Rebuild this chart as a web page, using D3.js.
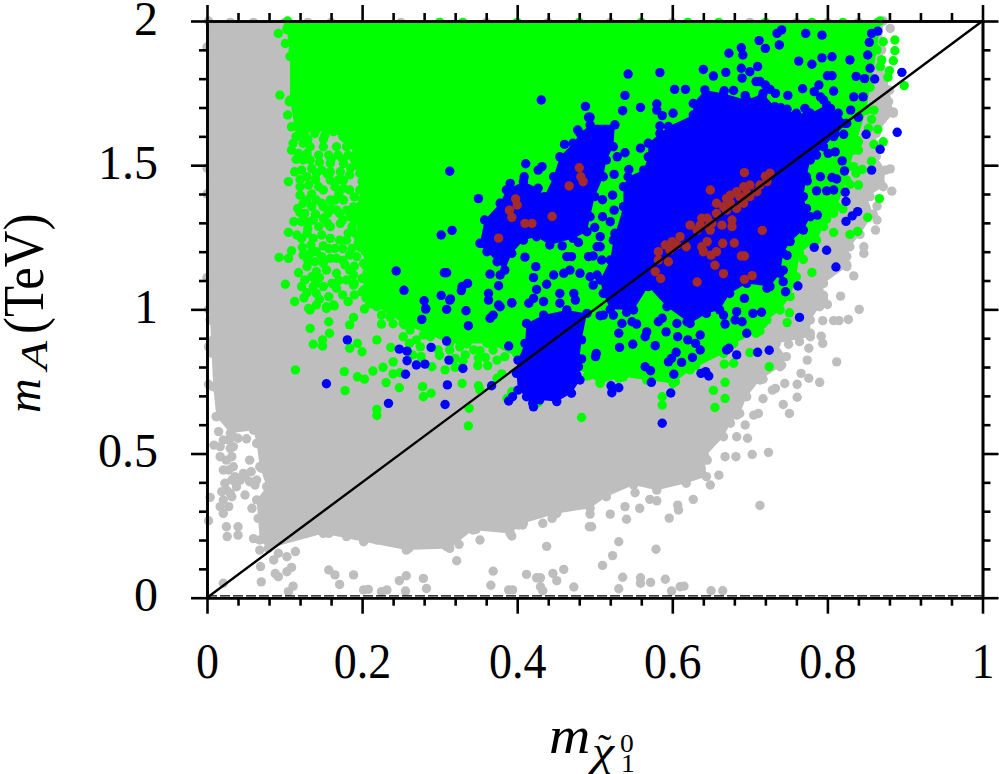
<!DOCTYPE html>
<html><head><meta charset="utf-8">
<script src="https://cdn.jsdelivr.net/npm/d3@7/dist/d3.min.js"></script>
<style>html,body{margin:0;padding:0;background:#fff}svg{display:block}text{font-family:"Liberation Serif",serif;fill:#000}</style>
</head><body><svg id="c" width="999" height="774"></svg>
<script>
const xMajorTicks=[0,0.2,0.4,0.6,0.8,1];
const xMinorTicks=[0.04,0.08,0.12,0.16,0.24,0.28,0.32,0.36,0.44,0.48,0.52,0.56,0.64,0.68,0.72,0.76,0.84,0.88,0.92,0.96];
const yMajorTicks=[0,0.5,1,1.5,2];
const yMinorTicks=[0.1,0.2,0.3,0.4,0.6,0.7,0.8,0.9,1.1,1.2,1.3,1.4,1.6,1.7,1.8,1.9];
const diagonal=[[0,0],[1,2]];

// dense clouds, outlined
const grayCloud=[[0.002,2],[0.002,1],[0.004,0.963],[0.008,0.732],[0.012,0.628],[0.03,0.57],[0.06,0.581],[0.064,0.535],[0.068,0.454],[0.077,0.385],[0.064,0.339],[0.068,0.2],[0.079,0.171],[0.15,0.223],[0.202,0.194],[0.257,0.165],[0.313,0.171],[0.343,0.235],[0.391,0.223],[0.408,0.258],[0.451,0.292],[0.494,0.31],[0.515,0.35],[0.55,0.391],[0.58,0.373],[0.618,0.397],[0.644,0.42],[0.642,0.489],[0.666,0.558],[0.675,0.605],[0.687,0.639],[0.696,0.697],[0.713,0.755],[0.739,0.801],[0.747,0.836],[0.734,0.882],[0.778,0.905],[0.778,0.963],[0.79,1.009],[0.795,1.034],[0.795,1.09],[0.825,1.148],[0.829,1.217],[0.842,1.26],[0.859,1.33],[0.851,1.39],[0.872,1.425],[0.875,1.483],[0.863,1.53],[0.863,1.61],[0.885,1.68],[0.88,1.76],[0.87,1.9],[0.872,2]];
const greenCloud=[[0.104,2],[0.868,2],[0.864,1.9],[0.855,1.77],[0.85,1.69],[0.838,1.587],[0.829,1.495],[0.825,1.448],[0.812,1.356],[0.795,1.287],[0.786,1.24],[0.764,1.194],[0.76,1.113],[0.752,1.044],[0.739,0.998],[0.717,0.95],[0.708,0.917],[0.679,0.882],[0.666,0.847],[0.623,0.79],[0.601,0.743],[0.567,0.755],[0.537,0.766],[0.507,0.743],[0.494,0.778],[0.408,0.824],[0.365,0.882],[0.313,0.882],[0.253,0.951],[0.219,1.009],[0.2,1.06],[0.205,1.15],[0.195,1.25],[0.19,1.34],[0.2,1.42],[0.195,1.52],[0.175,1.6],[0.14,1.62],[0.115,1.6],[0.107,1.726],[0.107,1.877],[0.103,1.97]];
const blueCloudA=[[0.358,1.31],[0.378,1.368],[0.386,1.414],[0.408,1.443],[0.427,1.42],[0.435,1.391],[0.447,1.46],[0.455,1.529],[0.472,1.576],[0.481,1.61],[0.494,1.64],[0.526,1.64],[0.524,1.564],[0.515,1.518],[0.511,1.46],[0.5,1.391],[0.494,1.321],[0.49,1.269],[0.472,1.246],[0.442,1.223],[0.425,1.252],[0.408,1.24],[0.393,1.194],[0.384,1.136],[0.374,1.165],[0.361,1.2],[0.352,1.229]];
const blueCloudB=[[0.642,1.761],[0.666,1.749],[0.696,1.726],[0.717,1.749],[0.732,1.703],[0.76,1.68],[0.778,1.68],[0.799,1.709],[0.814,1.68],[0.825,1.645],[0.808,1.599],[0.795,1.564],[0.778,1.518],[0.773,1.46],[0.769,1.391],[0.773,1.35],[0.778,1.321],[0.769,1.275],[0.752,1.235],[0.743,1.194],[0.739,1.125],[0.726,1.079],[0.696,1.09],[0.674,1.055],[0.661,0.998],[0.644,0.986],[0.623,0.951],[0.593,1.009],[0.569,1.079],[0.55,0.998],[0.52,1.0],[0.511,1.055],[0.507,1.102],[0.52,1.171],[0.524,1.24],[0.537,1.356],[0.537,1.425],[0.543,1.46],[0.563,1.483],[0.569,1.529],[0.569,1.576],[0.584,1.61],[0.595,1.634],[0.627,1.674],[0.627,1.714]];
const blueCloudC=[[0.412,0.951],[0.434,0.98],[0.464,0.998],[0.49,0.986],[0.483,0.894],[0.479,0.801],[0.481,0.755],[0.47,0.709],[0.451,0.68],[0.429,0.686],[0.421,0.662],[0.412,0.697],[0.401,0.72],[0.399,0.778],[0.401,0.824],[0.41,0.882]];

const grayPoints=[[0.008,0.894],[0.007,0.847],[0.008,0.732],[0.012,0.628],[0.009,0.529],[0.017,0.489],[0.021,0.443],[0.023,0.397],[0.021,0.339],[0.021,0.292],[0.025,0.246],[0.026,0.212],[0.04,0.246],[0.04,0.217],[0.06,0.205],[0.058,0.31],[0.066,0.275],[0.049,0.356],[0.055,0.477],[0.07,0.449],[0.034,0.524],[0.043,0.408],[0.004,0.348],[0.002,0.267],[0.03,0.362],[0.068,0.165],[0.069,0.108],[0.07,0.055],[0.021,0.05],[0.092,0.154],[0.103,0.142],[0.114,0.16],[0.086,0.131],[0.092,0.073],[0.103,0.09],[0.109,0.105],[0.088,0.084],[0.105,0.021],[0.111,0.04],[0.157,0.096],[0.165,0.079],[0.189,0.079],[0.171,0.046],[0.202,0.027],[0.208,0.029],[0.225,0.021],[0.232,0.027],[0.248,0.059],[0.257,0.076],[0.256,0.023],[0.279,0.067],[0.283,0.032],[0.322,0.128],[0.352,0.2],[0.325,0.185],[0.438,0.178],[0.369,0.092],[0.366,0.043],[0.389,0.027],[0.394,0.027],[0.412,0.081],[0.425,0.069],[0.43,0.069],[0.43,0.038],[0.433,0.024],[0.446,0.084],[0.451,0.059],[0.46,0.098],[0.473,0.037],[0.433,0.258],[0.445,0.275],[0.493,0.246],[0.393,0.214],[0.347,0.237],[0.384,0.252],[0.402,0.252],[0.407,0.252],[0.369,0.252],[0.152,0.269],[0.157,0.223],[0.18,0.212],[0.202,0.223],[0.219,0.2],[0.236,0.194],[0.26,0.171],[0.279,0.2],[0.309,0.177],
[0.015,0.576],[0.021,0.547],[0.028,0.547],[0.017,0.524],[0.025,0.477],[0.028,0.443],[0.032,0.408],[0.025,0.373],[0.019,0.368],[0.032,0.35],[0.028,0.316],[0.017,0.316],[0.036,0.42],[0.049,0.42],[0.055,0.402],[0.062,0.391],[0.047,0.431],[0.057,0.437],[0.034,0.454],[0.032,0.489],[0.064,0.408],[0.038,0.385],[0.051,0.551],[0.04,0.553],[0.034,0.558],[0.03,0.518],
[0.494,0.29],[0.52,0.29],[0.496,0.246],[0.541,0.272],[0.539,0.316],[0.558,0.31],[0.552,0.364],[0.571,0.341],[0.58,0.336],[0.596,0.276],[0.607,0.321],[0.608,0.304],[0.627,0.341],[0.531,0.194],[0.523,0.146],[0.51,0.112],[0.579,0.168],[0.536,0.071],[0.531,0.031],[0.559,0.069],[0.559,0.05],[0.572,0.053],[0.591,0.064],[0.599,0.023],[0.61,0.038],[0.615,0.04],[0.65,0.024],[0.665,0.024],[0.713,0.32],[0.649,0.391],[0.66,0.425],[0.627,0.458],[0.645,0.477],[0.668,0.489],[0.682,0.489],[0.703,0.497],[0.724,0.504],[0.697,0.553],[0.683,0.558],[0.694,0.599],[0.705,0.633],[0.711,0.639],[0.683,0.633],[0.743,0.67],[0.751,0.639],[0.761,0.695],[0.717,0.69],[0.729,0.72],[0.733,0.726],[0.745,0.743],[0.761,0.74],[0.776,0.761],[0.79,0.747],[0.766,0.778],[0.717,0.758],[0.774,0.824],[0.776,0.865],[0.812,0.818],[0.792,0.907],[0.794,0.882],[0.764,0.888],[0.75,0.879],[0.794,0.961],[0.808,0.961],[0.815,0.961],[0.827,0.965],[0.841,1.0],[0.8,1.017],[0.778,0.917],[0.741,0.807],[0.735,0.836],
[0.795,1.049],[0.817,1.046],[0.883,1.41],[0.881,1.487],[0.862,1.275],[0.847,1.194],[0.834,1.116],[0.825,1.154],[0.864,1.358],[0.885,1.685],[0.879,1.72],[0.881,1.974],[0.868,1.443],[0.855,1.391],[0.864,1.31],[0.847,1.217],[0.825,1.183],
[0.03,1.995],[0.06,1.995],[0.1,1.995],[0.13,1.995],[0.16,1.995],[0.25,1.995],[0.3,1.995],[0.36,1.995],[0.44,1.995],[0.52,1.995],[0.6,1.995],[0.7,1.995],[0.76,1.995],[0.8,1.995],[0.84,1.995],
[0,1.91],[0,1.49],[0,1.4],[0,1.11],[0.002,0.87],[0.002,0.74]];

const greenPoints=[[0.092,1.957],[0.104,1.978],[0.117,1.98],[0.116,1.946],[0.101,1.922],[0.111,1.899],[0.094,1.743],[0.106,1.72],[0.104,1.674],[0.109,1.633],[0.111,1.576],[0.109,1.552],[0.124,1.576],[0.113,1.477],[0.105,1.443],[0.12,1.396],[0.117,1.35],[0.126,1.333],[0.112,1.304],[0.105,1.267],[0.116,1.258],[0.129,1.264],[0.137,1.31],[0.15,1.316],[0.148,1.258],[0.171,1.24],[0.123,1.215],[0.134,1.223],[0.109,1.203],[0.093,1.18],[0.105,1.177],[0.141,1.2],[0.157,1.211],[0.165,1.211],[0.139,1.165],[0.15,1.159],[0.167,1.177],[0.178,1.154],[0.118,1.127],[0.126,1.102],[0.101,1.087],[0.135,1.113],[0.161,1.09],[0.18,1.102],[0.189,1.119],[0.2,1.107],[0.219,1.107],[0.129,1.058],[0.141,1.055],[0.113,1.027],[0.157,1.044],[0.163,1.015],[0.182,1.027],[0.202,1.067],[0.227,1.055],[0.21,1.021],[0.227,1.015],[0.238,1.027],[0.249,1.015],[0.131,1.003],[0.154,1.009],[0.129,1.46],[0.141,1.472],[0.159,1.506],[0.176,1.506],[0.193,1.5],[0.212,1.518],[0.206,1.552],[0.167,1.564],[0.15,1.564],[0.133,1.564],[0.18,1.564],[0.133,1.518],[0.124,1.518],[0.159,1.379],[0.141,1.379],[0.176,1.379],[0.189,1.356],[0.197,1.344],[0.184,1.414],[0.197,1.414],[0.212,1.217],[0.198,1.215],[0.187,1.211],[0.184,1.188],[0.212,1.177],[0.202,1.159],[0.159,1.287],[0.172,1.298],[0.187,1.287],[0.223,1.258],[0.137,1.633],[0.15,1.656],[0.167,1.633],[0.159,1.448],[0.176,1.448],[0.15,1.414],[0.167,1.344],[0.15,1.356],[0.129,1.379],
[0.116,1.599],[0.126,1.604],[0.139,1.61],[0.152,1.604],[0.163,1.616],[0.178,1.593],[0.189,1.604],[0.118,1.541],[0.129,1.541],[0.144,1.535],[0.157,1.535],[0.169,1.535],[0.182,1.535],[0.191,1.535],[0.122,1.483],[0.135,1.489],[0.148,1.483],[0.159,1.477],[0.172,1.477],[0.184,1.466],[0.197,1.472],[0.21,1.483],[0.12,1.425],[0.131,1.431],[0.144,1.425],[0.165,1.425],[0.176,1.42],[0.2,1.443],[0.124,1.368],[0.135,1.356],[0.148,1.368],[0.165,1.379],[0.18,1.344],[0.122,1.304],[0.131,1.304],[0.144,1.287],[0.156,1.333],[0.171,1.333],[0.184,1.321],[0.122,1.246],[0.137,1.246],[0.159,1.246],[0.182,1.264],[0.191,1.264],[0.133,1.194],[0.148,1.183],[0.124,1.188],[0.159,1.177],[0.193,1.183],[0.204,1.2],[0.129,1.148],[0.141,1.131],[0.154,1.136],[0.167,1.125],[0.184,1.136],[0.206,1.125],[0.215,1.159],[0.122,1.079],[0.137,1.079],[0.15,1.079],[0.167,1.073],[0.189,1.084],[0.212,1.079],[0.219,1.067],
[0.14,1.45],[0.19,1.39],[0.17,1.4],[0.135,1.4],[0.16,1.35],[0.14,1.33],[0.12,1.335],[0.19,1.31],[0.175,1.31],[0.155,1.3],[0.13,1.28],[0.18,1.24],[0.195,1.23],[0.15,1.22],[0.175,1.21],[0.13,1.17],[0.19,1.15],[0.175,1.17],[0.145,1.11],[0.17,1.1],[0.19,1.09],[0.14,1.09],[0.125,1.04],[0.145,1.035],[0.175,1.05],[0.19,1.05],[0.205,1.04],[0.12,1.45],[0.155,1.47],[0.17,1.45],[0.185,1.49],[0.115,1.52],[0.145,1.51],[0.16,1.52],[0.175,1.52],[0.19,1.52],[0.13,1.59],[0.15,1.59],[0.175,1.61],[0.195,1.59],[0.205,1.5],[0.21,1.4],[0.21,1.35],[0.21,1.22],[0.215,1.12],
[0.133,0.934],[0.137,0.879],[0.149,0.894],[0.149,0.873],[0.158,0.917],[0.157,0.957],[0.133,0.998],[0.141,1.015],[0.154,1.003],[0.164,1.012],[0.189,0.972],[0.184,0.946],[0.203,1.001],[0.212,1.018],[0.225,0.949],[0.247,0.986],[0.262,0.995],[0.255,0.946],[0.219,0.894],[0.194,0.882],[0.184,0.865],[0.2,0.853],[0.237,0.868],[0.261,0.882],[0.114,0.79],[0.177,0.784],[0.214,0.786],[0.227,0.799],[0.24,0.818],[0.194,0.766],[0.203,0.758],[0.24,0.776],[0.249,0.78],[0.231,0.746],[0.248,0.728],[0.178,0.718],[0.278,0.732],[0.279,0.697],[0.289,0.709],[0.219,0.653],[0.219,0.632],[0.338,0.657],[0.337,0.596],[0.329,0.743],[0.307,0.79],[0.32,0.799],[0.349,0.805],[0.35,0.735],[0.352,0.72],[0.362,0.805],[0.374,0.824],[0.384,0.836],[0.359,0.833],[0.352,0.857],[0.38,0.776],[0.374,0.761],[0.29,0.801],[0.276,0.836],[0.265,0.842],[0.283,0.94],[0.296,0.922],[0.279,0.911],[0.298,0.859],[0.313,0.859],[0.326,0.87],[0.333,0.842],[0.322,0.917],[0.335,0.905],[0.348,0.905],[0.361,0.882],[0.376,0.911],[0.361,0.928],[0.296,0.974],[0.309,0.963],[0.279,0.963],[0.262,0.928],[0.32,0.83],[0.483,0.625],[0.427,0.676],[0.393,0.714],[0.387,0.691],[0.49,0.769],
[0.236,0.974],[0.27,0.986],[0.288,1.009],[0.305,0.998],[0.318,0.998],[0.344,0.986],[0.356,0.974],[0.378,0.963],[0.391,0.917],[0.27,0.894],[0.288,0.905],[0.305,0.917],[0.344,0.859],[0.369,0.859],[0.391,0.963],[0.408,0.986],[0.335,1.009],[0.348,0.951],[0.292,0.951],[0.313,0.94],[0.253,0.905],[0.404,0.917],[0.399,0.847],[0.225,0.98],[0.24,0.95],[0.26,0.96],[0.275,0.87],[0.3,0.84],[0.335,0.88],[0.37,0.89],[0.39,0.88],[0.35,0.83],[0.33,0.82],
[0.722,0.963],[0.748,0.954],[0.751,0.988],[0.737,1.009],[0.713,0.925],[0.707,0.951],[0.7,0.85],[0.725,0.801],[0.679,0.813],[0.667,0.81],[0.668,0.747],[0.653,0.719],[0.668,0.691],[0.655,0.66],[0.587,0.697],[0.587,0.668],[0.604,0.749],[0.592,0.764],[0.586,0.784],[0.599,0.795],[0.544,0.786],[0.531,0.761],[0.531,0.801],[0.538,0.824],[0.523,0.836],[0.511,0.816],[0.507,0.749],[0.503,0.769],[0.559,0.83],[0.559,0.818],[0.623,0.793],[0.63,0.805],[0.679,0.882],[0.649,0.868],[0.658,0.859],[0.66,0.888],[0.677,0.917],[0.572,0.755],[0.494,0.772],
[0.887,1.934],[0.887,1.897],[0.885,1.862],[0.88,1.828],[0.87,1.865],[0.872,1.928],[0.862,1.905],[0.868,1.842],[0.878,1.805],[0.899,1.776],[0.86,1.691],[0.857,1.659],[0.853,1.628],[0.865,1.624],[0.872,1.581],[0.86,1.572],[0.84,1.581],[0.834,1.552],[0.84,1.552],[0.857,1.514],[0.837,1.472],[0.845,1.485],[0.834,1.495],[0.84,1.431],[0.829,1.433],[0.867,1.384],[0.852,1.319],[0.839,1.27],[0.829,1.26],[0.808,1.267],[0.799,1.313],[0.82,1.348],[0.808,1.333],[0.806,1.362],[0.78,1.128],[0.769,1.173],[0.786,1.275],[0.778,1.287],[0.737,1.021],
[0.3,1.995],[0.33,1.995],[0.4,1.995],[0.48,1.995],[0.56,1.995],[0.62,1.995],[0.66,1.995],[0.72,1.995],[0.78,1.995],[0.82,1.995],[0.865,1.995]];

const bluePoints=[[0.431,1.726],[0.488,1.704],[0.492,1.666],[0.478,1.622],[0.461,1.572],[0.411,1.505],[0.432,1.495],[0.427,1.483],[0.313,1.479],[0.35,1.384],[0.409,1.46],[0.391,1.437],[0.316,1.274],[0.302,1.258],[0.356,1.229],[0.479,1.232],[0.458,1.22],[0.41,1.181],[0.244,1.133],[0.306,1.127],[0.309,1.127],[0.365,1.122],[0.378,1.119],[0.424,1.148],[0.421,1.11],[0.47,1.183],[0.464,1.183],[0.447,1.119],[0.468,1.136],[0.46,1.125],[0.481,1.125],[0.492,1.183],[0.376,1.082],[0.336,1.09],[0.329,1.079],[0.328,1.065],[0.254,1.066],[0.302,1.048],[0.314,1.036],[0.28,1.03],[0.363,1.055],[0.363,1.032],[0.421,1.038],[0.415,1.021],[0.425,1.069],[0.438,1.087],[0.455,1.055],[0.473,1.055],[0.475,1.032],[0.455,1.021],[0.393,1.022],[0.376,1.015],[0.434,1.027],[0.282,1.003],[0.309,1],[0.334,0.995],
[0.735,1.957],[0.741,1.969],[0.772,1.957],[0.793,1.951],[0.712,1.932],[0.72,1.905],[0.738,1.917],[0.689,1.907],[0.691,1.882],[0.673,1.888],[0.763,1.861],[0.78,1.85],[0.793,1.872],[0.806,1.876],[0.829,1.865],[0.852,1.882],[0.854,1.926],[0.857,1.957],[0.865,1.965],[0.855,1.836],[0.896,1.822],[0.861,1.799],[0.848,1.8],[0.837,1.808],[0.8,1.81],[0.806,1.81],[0.543,1.816],[0.584,1.821],[0.64,1.832],[0.653,1.809],[0.669,1.822],[0.689,1.836],[0.7,1.824],[0.71,1.842],[0.69,1.802],[0.708,1.79],[0.713,1.79],[0.72,1.778],[0.726,1.763],[0.733,1.749],[0.603,1.763],[0.617,1.763],[0.667,1.758],[0.679,1.759],[0.694,1.741],[0.716,1.737],[0.749,1.742],[0.768,1.765],[0.789,1.778],[0.783,1.755],[0.808,1.757],[0.791,1.737],[0.795,1.726],[0.834,1.737],[0.846,1.737],[0.539,1.742],[0.559,1.7],[0.536,1.689],[0.58,1.712],[0.58,1.691],[0.587,1.672],[0.601,1.68],[0.74,1.699],[0.748,1.694],[0.771,1.697],[0.774,1.685],[0.804,1.697],[0.791,1.674],[0.797,1.668],[0.804,1.674],[0.791,1.645],[0.786,1.628],[0.83,1.691],[0.84,1.666],[0.823,1.645],[0.584,1.636],[0.821,1.607],[0.85,1.607],[0.89,1.614],[0.81,1.61],[0.868,1.555],[0.801,1.541],[0.81,1.546],[0.786,1.535],[0.559,1.559],[0.539,1.543],[0.529,1.529],[0.544,1.485],[0.525,1.468],[0.819,1.515],[0.857,1.483],[0.822,1.48],[0.791,1.46],[0.806,1.457],[0.812,1.452],[0.774,1.445],[0.523,1.396],[0.51,1.38],[0.823,1.406],[0.786,1.411],[0.799,1.411],[0.808,1.414],[0.824,1.374],[0.525,1.344],[0.51,1.321],[0.52,1.304],[0.5,1.284],[0.787,1.327],[0.824,1.305],[0.832,1.324],[0.839,1.339],[0.526,1.264],[0.507,1.252],[0.503,1.217],[0.507,1.217],[0.498,1.185],[0.509,1.171],[0.783,1.215],[0.799,1.205],[0.748,1.187],[0.811,1.147],[0.743,1.136],[0.743,1.096],[0.762,1.081],[0.746,1.061],[0.722,1.073],[0.693,1.038],[0.498,1.084],[0.494,1.113],[0.503,1.119],[0.494,1.666],
[0.764,0.972],[0.715,0.99],[0.704,0.986],[0.683,0.992],[0.666,0.98],[0.668,0.949],[0.69,0.957],[0.696,0.917],[0.681,0.963],[0.725,0.858],[0.71,0.851],[0.683,0.842],[0.67,0.859],[0.673,0.865],[0.636,0.911],[0.636,0.859],[0.62,0.894],[0.63,0.882],[0.607,0.905],[0.606,0.951],[0.619,0.957],[0.592,0.922],[0.582,0.957],[0.587,0.969],[0.567,0.922],[0.565,0.905],[0.535,0.951],[0.548,0.957],[0.554,0.949],[0.541,0.99],[0.531,0.917],[0.507,0.978],[0.511,0.98],[0.524,0.98],[0.578,0.874],[0.549,0.879],[0.532,0.868],[0.502,0.847],[0.501,0.836],[0.605,0.851],[0.599,0.83],[0.595,0.818],[0.612,0.816],[0.626,0.833],[0.565,0.801],[0.572,0.787],[0.637,0.778],[0.643,0.784],[0.647,0.769],[0.602,0.775],[0.573,0.747],[0.521,0.735],[0.531,0.728],[0.522,0.711],[0.598,0.71],[0.587,0.605],
[0.181,0.894],[0.248,0.862],[0.258,0.855],[0.258,0.822],[0.27,0.807],[0.281,0.81],[0.289,0.868],[0.309,0.89],[0.312,0.824],[0.33,0.795],[0.337,0.943],[0.277,0.965],[0.282,1.001],[0.313,1.032],[0.365,0.969],[0.369,0.98],[0.378,1.009],[0.393,1.023],[0.389,0.873],[0.256,0.775],[0.154,0.742],[0.31,0.738],[0.234,0.674],[0.307,0.67],[0.367,0.735],[0.389,0.682],[0.394,0.697],[0.42,0.674],[0.483,0.828],[0.477,0.772]];

const redPoints=[[0.48,1.491],[0.482,1.46],[0.485,1.443],[0.467,1.428],[0.398,1.383],[0.4,1.362],[0.39,1.344],[0.393,1.319],[0.41,1.298],[0.419,1.298],[0.445,1.322],[0.376,1.247],
[0.693,1.474],[0.72,1.462],[0.726,1.472],[0.649,1.414],[0.722,1.443],[0.713,1.431],[0.7,1.431],[0.692,1.425],[0.683,1.408],[0.675,1.396],[0.7,1.391],[0.692,1.368],[0.67,1.385],[0.657,1.368],[0.683,1.35],[0.67,1.344],[0.657,1.333],[0.645,1.316],[0.638,1.316],[0.651,1.298],[0.677,1.31],[0.664,1.292],[0.636,1.292],[0.623,1.292],[0.649,1.275],[0.632,1.275],[0.677,1.287],[0.716,1.274],[0.61,1.252],[0.6,1.235],[0.591,1.223],[0.582,1.2],[0.582,1.171],[0.597,1.206],[0.606,1.223],[0.618,1.217],[0.595,1.165],[0.578,1.131],[0.585,1.107],[0.645,1.235],[0.638,1.217],[0.64,1.2],[0.665,1.229],[0.68,1.23],[0.657,1.2],[0.65,1.188],[0.689,1.185],[0.693,1.185],[0.655,1.153],[0.666,1.124],[0.632,1.095],[0.693,1.104],[0.703,1.117],[0.709,1.408],[0.696,1.402],[0.687,1.391],[0.675,1.368],[0.666,1.356],[0.647,1.287]];

const svg=d3.select("#c");
const x=d3.scaleLinear().domain([0,1]).range([207,982.5]);
const y=d3.scaleLinear().domain([0,2]).range([597.7,21]);
const area=d3.line().x(d=>x(d[0])).y(d=>y(d[1])).curve(d3.curveLinearClosed);
const R=4.7;
function dots(p,c,r){svg.append("g").selectAll("circle").data(p).join("circle").attr("cx",d=>x(d[0])).attr("cy",d=>y(d[1])).attr("r",r).attr("fill",c);}
function cloud(p,c){svg.append("path").datum(p).attr("d",area).attr("fill",c);dots(p,c,R);}
cloud(grayCloud,"#bebebe");dots(grayPoints,"#bebebe",R);
cloud(greenCloud,"#00ff00");dots(greenPoints,"#00ff00",R);
cloud(blueCloudA,"#0000ff");cloud(blueCloudB,"#0000ff");cloud(blueCloudC,"#0000ff");dots(bluePoints,"#0000ff",R);
dots(redPoints,"#a52a2a",R);
svg.append("path").datum(diagonal).attr("d",d3.line().x(d=>x(d[0])).y(d=>y(d[1]))).attr("stroke","#000").attr("stroke-width",2.4).attr("fill","none");

const LW=2.6;
svg.append("line").attr("x1",x(0)).attr("x2",x(1)).attr("y1",y(0)-1.8).attr("y2",y(0)-1.8).attr("stroke","#000").attr("stroke-width",1.4).attr("stroke-dasharray","10 3");
function style(g){g.selectAll("path,line").attr("stroke","#000").attr("stroke-width",LW);}
function fmt(v){return String(v);}
svg.append("g").attr("transform",`translate(0,${y(0)})`).call(d3.axisBottom(x).tickValues(xMinorTicks).tickSize(8).tickSizeOuter(0).tickFormat("")).call(style);
svg.append("g").attr("transform",`translate(0,${y(2)})`).call(d3.axisTop(x).tickValues(xMinorTicks).tickSize(8).tickSizeOuter(0).tickFormat("")).call(style);
svg.append("g").attr("transform",`translate(${x(0)},0)`).call(d3.axisLeft(y).tickValues(yMinorTicks).tickSize(8).tickSizeOuter(0).tickFormat("")).call(style);
svg.append("g").attr("transform",`translate(${x(1)},0)`).call(d3.axisRight(y).tickValues(yMinorTicks).tickSize(8).tickSizeOuter(0).tickFormat("")).call(style);
const bx=svg.append("g").attr("transform",`translate(0,${y(0)})`).call(d3.axisBottom(x).tickValues(xMajorTicks).tickSize(16).tickSizeOuter(0).tickFormat(fmt)).call(style);
bx.selectAll("text").attr("y",null).attr("dy",null).attr("transform","translate(0,80) scale(0.92,1)").attr("font-size",50);
svg.append("g").attr("transform",`translate(0,${y(2)})`).call(d3.axisTop(x).tickValues(xMajorTicks).tickSize(16).tickSizeOuter(0).tickFormat("")).call(style);
const ly=svg.append("g").attr("transform",`translate(${x(0)},0)`).call(d3.axisLeft(y).tickValues(yMajorTicks).tickSize(16).tickSizeOuter(0).tickFormat(fmt)).call(style);
ly.selectAll("text").attr("x",null).attr("dy",null).attr("transform","translate(-49,13)").attr("font-size",48);
svg.append("g").attr("transform",`translate(${x(1)},0)`).call(d3.axisRight(y).tickValues(yMajorTicks).tickSize(16).tickSizeOuter(0).tickFormat("")).call(style);

const lab=(tf,s,fs,it)=>svg.append("text").attr("transform",tf).attr("font-size",fs).attr("font-style",it?"italic":"normal").text(s);
lab("translate(549,753) scale(1.1,1)","m",52,true);
lab("translate(592,765) scale(1.25,1)","χ",40,true);
lab("translate(598,762)","˜",40,false);
lab("translate(620,752) scale(1.1,1)","0",25,false);
lab("translate(621,772) scale(1.1,1)","1",25,false);
lab("translate(40,413) rotate(-90)","m",48,true);
lab("translate(47,370) rotate(-90) scale(1.25,1)","A",38,true);
lab("translate(43,334) rotate(-90) scale(0.89,1)","(TeV)",57,false);
</script></body></html>
